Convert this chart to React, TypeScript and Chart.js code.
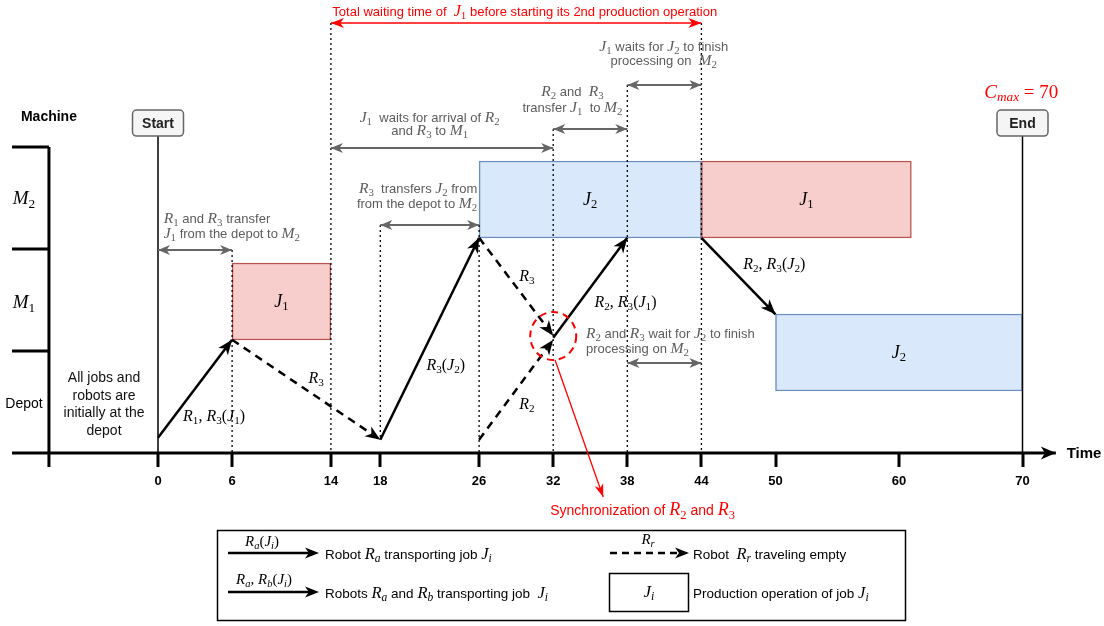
import { useEffect, useRef } from 'react';
import { Chart, registerables } from 'chart.js';

Chart.register(...registerables);

// ---- values ----
const TIME_TICKS = [0, 6, 14, 18, 26, 32, 38, 44, 50, 60, 70];
const C_MAX = 70;

// production operations (machine: 1 = M1, 2 = M2)
const OP_JOB = ['J_1', 'J_2', 'J_1', 'J_2'];
const OP_MACHINE = [1, 2, 2, 1];
const OP_START = [6, 26, 44, 50];
const OP_END = [14, 44, 61, 70];

// robot moves (levels in machine-row units, 0 = time axis)
const MOVE_LABEL = ['R_1, R_3(J_1)', 'R_3', 'R_3(J_2)', 'R_3', 'R_2', 'R_2, R_3(J_1)', 'R_2, R_3(J_2)'];
const MOVE_LOADED = [true, false, true, false, false, true, true];
const MOVE_T0 = [0, 6, 18, 26, 26, 32, 44];
const MOVE_T1 = [6, 18, 26, 32, 32, 38, 50];
const MOVE_L0 = [0.15, 1.11, 0.13, 2.11, 0.13, 1.13, 2.11];
const MOVE_L1 = [1.11, 0.13, 2.11, 1.15, 1.11, 2.11, 1.36];

// grey double arrows (transfer / waiting intervals)
const SPAN_T0 = [0, 18, 14, 32, 38, 38];
const SPAN_T1 = [6, 26, 32, 38, 44, 44];
const SPAN_L = [1.99, 2.235, 2.99, 3.176, 3.608, 0.882];

// total waiting time of J1 (red)
const WAIT_T0 = 14;
const WAIT_T1 = 44;
const WAIT_L = 4.216;

// dotted guides
const GUIDE_T = [6, 14, 18, 26, 32, 38, 44];
const GUIDE_TOP = [1.99, 4.216, 2.235, 2.235, 3.176, 3.608, 4.216];
const GUIDE_BOTTOM = [0, 0, 0.13, 0, 0, 0, 0];

// ---- layout ----
const W = 1104;
const H = 626;
const PX_PER_T = 12.35;
const T0_PX = 158;
const ROW_PX = 102;
const AXIS_PX = 453;
const X_MIN = -T0_PX / PX_PER_T;
const X_MAX = X_MIN + W / PX_PER_T;
const Y_MAX = AXIS_PX / ROW_PX;
const Y_MIN = Y_MAX - H / ROW_PX;
const BAR_LO = 0.108;
const BAR_HI = 0.863;
const OP_SHIFT = [0, 0, 0, -0.5];
const AX_LEFT = -11.82;
const AX_V = -8.83;
const AX_RIGHT = 72.7;
const MARK_TOP = 3.116;
const BOX_L = 3.235;

const RED = '#ff0000';
const GREY = '#5c5c5c';
const SANS = '"Liberation Sans", Arial, sans-serif';
const SERIF = '"Liberation Serif", "Times New Roman", serif';

const NOTES: any[] = [
  { t: 29.7, l: 4.333, lines: ['Total waiting time of  $J_1$ before starting its 2nd production operation'], color: RED, size: 13, ms: 16 },
  { t: 40.95, l: 3.922, lines: ['$J_1$ waits for $J_2$ to finish', 'processing on  $M_2$'], lh: 14 },
  { t: 33.56, l: 3.47, lines: ['$R_2$ and  $R_3$', 'transfer $J_1$  to $M_2$'], lh: 16 },
  { t: 22.0, l: 3.23, lines: ['$J_1$  waits for arrival of $R_2$', 'and $R_3$ to $M_1$'], lh: 13 },
  { t: 0.46, l: 2.225, lines: ['$R_1$ and $R_3$ transfer', '$J_1$ from the depot to $M_2$'], lh: 15, align: 'left' },
  { t: 25.85, l: 2.525, lines: ['$R_3$  transfers $J_2$ from', 'from the depot to $M_2$'], lh: 15, align: 'right' },
  { t: 34.65, l: 1.103, lines: ['$R_2$ and $R_3$ wait for $J_2$ to finish', 'processing on $M_2$'], lh: 15, align: 'left' },
  { t: 39.24, l: -0.559, lines: ['Synchronization of $R_2$ and $R_3$'], color: RED, size: 14, ms: 18 },
  { t: 69.9, l: 3.54, lines: ['$C_{max} = 70$'], color: RED, size: 16, ms: 19 },
  { t: -4.37, l: 0.485, lines: ['All jobs and', 'robots are', 'initially at the', 'depot'], color: '#111', size: 14, lh: 17.6 },
  { t: -10.85, l: 0.49, lines: ['Depot'], color: '#000', size: 14 },
  { t: -10.85, l: 1.48, lines: ['$M_1$'], color: '#000', size: 16, ms: 19 },
  { t: -10.85, l: 2.5, lines: ['$M_2$'], color: '#000', size: 16, ms: 19 },
  { t: -8.83, l: 3.304, lines: ['Machine'], color: '#000', size: 14, bold: true },
  { t: 74.98, l: 0, lines: ['Time'], color: '#000', size: 15, bold: true },
];
const MOVE_TEXT_POS = [
  [4.54, 0.363], [12.8, 0.735], [23.3, 0.863], [29.87, 1.735], [29.87, 0.48], [37.85, 1.48], [49.9, 1.853],
];
const SYNC_C = [32, 1.147];
const SYNC_FROM = [32.15, 0.912];
const SYNC_TO = [36.05, -0.431];

type Seg = { s: string; font: string; dy: number };
const mathFont = (c: string, sz: number) => `${/[A-Za-z]/.test(c) ? 'italic ' : ''}${sz.toFixed(1)}px ${SERIF}`;

function segs(text: string, size: number, bold: boolean, msize: number): Seg[] {
  const out: Seg[] = [];
  text.split('$').forEach((part, i) => {
    if (!part) return;
    if (i % 2 === 0) {
      out.push({ s: part, font: `${bold ? 'bold ' : ''}${size}px ${SANS}`, dy: 0 });
      return;
    }
    let k = 0;
    while (k < part.length) {
      const c = part[k];
      if (c === '_') {
        let sub: string;
        if (part[k + 1] === '{') {
          const e = part.indexOf('}', k);
          sub = part.slice(k + 2, e);
          k = e + 1;
        } else {
          sub = part[k + 1];
          k += 2;
        }
        for (const d of sub) out.push({ s: d, font: mathFont(d, msize * 0.7), dy: msize * 0.2 });
        continue;
      }
      out.push({ s: c, font: mathFont(c, msize), dy: 0 });
      k++;
    }
  });
  return out;
}

function drawRich(ctx: CanvasRenderingContext2D, text: string, x: number, y: number, o: any) {
  const size = o.size ?? 13;
  const list = segs(text, size, !!o.bold, o.ms ?? size * 1.2);
  let w = 0;
  const ws = list.map((g) => {
    ctx.font = g.font;
    const m = ctx.measureText(g.s).width;
    w += m;
    return m;
  });
  let cx = o.align === 'left' ? x : o.align === 'right' ? x - w : x - w / 2;
  ctx.fillStyle = o.color ?? GREY;
  ctx.textAlign = 'left';
  ctx.textBaseline = 'alphabetic';
  const base = y + size * 0.36;
  list.forEach((g, i) => {
    ctx.font = g.font;
    ctx.fillText(g.s, cx, base + g.dy);
    cx += ws[i];
  });
}

function head(ctx: CanvasRenderingContext2D, x1: number, y1: number, x2: number, y2: number, len: number, wid: number, color: string) {
  const a = Math.atan2(y2 - y1, x2 - x1);
  ctx.save();
  ctx.translate(x2, y2);
  ctx.rotate(a);
  ctx.beginPath();
  ctx.moveTo(0, 0);
  ctx.lineTo(-len, -wid / 2);
  ctx.lineTo(-len * 0.72, 0);
  ctx.lineTo(-len, wid / 2);
  ctx.closePath();
  ctx.fillStyle = color;
  ctx.fill();
  ctx.restore();
}

function seg(pts: number[][], color: string, width: number, dash: number[], order: number, heads?: any) {
  return {
    type: 'line',
    data: pts.map(([x, y]) => ({ x, y })),
    borderColor: color,
    borderWidth: width,
    borderDash: dash,
    borderCapStyle: 'butt',
    pointRadius: 0,
    pointHoverRadius: 0,
    fill: false,
    tension: 0,
    clip: false,
    order,
    heads,
  };
}

const overlayPlugin = {
  id: 'overlay',
  afterDatasetsDraw(chart: any) {
    const ctx: CanvasRenderingContext2D = chart.ctx;
    const xs = chart.scales.x;
    const ys = chart.scales.y;
    // arrowheads
    chart.data.datasets.forEach((ds: any, i: number) => {
      if (!ds.heads) return;
      const p = chart.getDatasetMeta(i).data;
      const n = p.length;
      const h = ds.heads;
      if (h.end) head(ctx, p[n - 2].x, p[n - 2].y, p[n - 1].x, p[n - 1].y, h.len, h.wid, ds.borderColor);
      if (h.start) head(ctx, p[1].x, p[1].y, p[0].x, p[0].y, h.len, h.wid, ds.borderColor);
    });
    // time ticks
    ctx.save();
    ctx.strokeStyle = '#000';
    ctx.lineWidth = 3;
    const y0 = ys.getPixelForValue(0);
    TIME_TICKS.forEach((t) => {
      const x = Math.round(xs.getPixelForValue(t));
      ctx.beginPath();
      ctx.moveTo(x, y0);
      ctx.lineTo(x, y0 + 14);
      ctx.stroke();
    });
    // synchronization circle
    ctx.setLineDash([7, 5]);
    ctx.strokeStyle = RED;
    ctx.lineWidth = 2;
    ctx.beginPath();
    ctx.ellipse(xs.getPixelForValue(SYNC_C[0]), ys.getPixelForValue(SYNC_C[1]), 23, 24, 0, 0, Math.PI * 2);
    ctx.stroke();
    ctx.setLineDash([]);
    // start / end boxes
    [['Start', 0], ['End', C_MAX]].forEach(([label, t]: any) => {
      const cx = xs.getPixelForValue(t);
      const cy = ys.getPixelForValue(BOX_L);
      ctx.beginPath();
      ctx.roundRect(cx - 25.5, cy - 13, 51, 26, 4);
      ctx.fillStyle = '#f5f5f5';
      ctx.fill();
      ctx.strokeStyle = '#666';
      ctx.lineWidth = 1.5;
      ctx.stroke();
      drawRich(ctx, label, cx, cy, { size: 14, bold: true, color: '#222' });
    });
    ctx.restore();
  },
  afterDraw(chart: any) {
    const ctx: CanvasRenderingContext2D = chart.ctx;
    const xs = chart.scales.x;
    const ys = chart.scales.y;
    ctx.save();
    const y0 = ys.getPixelForValue(0);
    TIME_TICKS.forEach((t) => drawRich(ctx, String(t), xs.getPixelForValue(t), y0 + 27, { size: 13, bold: true, color: '#000' }));
    // job labels
    OP_JOB.forEach((j, i) => {
      const cx = xs.getPixelForValue((OP_START[i] + OP_END[i]) / 2);
      const cy = ys.getPixelForValue(OP_MACHINE[i] + OP_SHIFT[i] + (BAR_LO + BAR_HI) / 2);
      drawRich(ctx, `$${j}$`, cx, cy, { size: 14, ms: 18, color: '#000' });
    });
    // move labels
    MOVE_LABEL.forEach((m, i) => {
      drawRich(ctx, `$${m}$`, xs.getPixelForValue(MOVE_TEXT_POS[i][0]), ys.getPixelForValue(MOVE_TEXT_POS[i][1]), { size: 13, ms: 16, color: '#000' });
    });
    // notes
    NOTES.forEach((n) => {
      const lh = n.lh ?? 15;
      const x = xs.getPixelForValue(n.t);
      const yc = ys.getPixelForValue(n.l);
      n.lines.forEach((line: string, k: number) => {
        drawRich(ctx, line, x, yc + (k - (n.lines.length - 1) / 2) * lh, n);
      });
    });
    // legend
    ctx.strokeStyle = '#000';
    ctx.lineWidth = 1.5;
    ctx.strokeRect(217.5, 530.5, 688, 90);
    const arrow = (x1: number, x2: number, y: number, dash: number[]) => {
      ctx.setLineDash(dash);
      ctx.lineWidth = 2.5;
      ctx.beginPath();
      ctx.moveTo(x1, y);
      ctx.lineTo(x2 - 6, y);
      ctx.stroke();
      ctx.setLineDash([]);
      head(ctx, x1, y, x2, y, 14, 11, '#000');
    };
    arrow(228, 319, 553, []);
    arrow(228, 319, 592, []);
    arrow(610, 689, 553, [7, 5]);
    drawRich(ctx, '$R_a(J_i)$', 262, 542, { size: 12, ms: 15, color: '#000' });
    drawRich(ctx, '$R_a, R_b(J_i)$', 264, 580, { size: 12, ms: 15, color: '#000' });
    drawRich(ctx, '$R_r$', 648, 540, { size: 12, ms: 15, color: '#000' });
    const lg = { size: 13.5, ms: 16.5, color: '#000', align: 'left' };
    drawRich(ctx, 'Robot $R_a$ transporting job $J_i$', 325, 554, lg);
    drawRich(ctx, 'Robots $R_a$ and $R_b$ transporting job  $J_i$', 325, 593, lg);
    drawRich(ctx, 'Robot  $R_r$ traveling empty', 693, 554, lg);
    drawRich(ctx, 'Production operation of job $J_i$', 693, 593, lg);
    ctx.lineWidth = 1.5;
    ctx.strokeRect(609.5, 573.5, 79, 38);
    drawRich(ctx, '$J_i$', 649, 592, { size: 13.5, ms: 17, color: '#000' });
    ctx.restore();
  },
};

export default function App() {
  const canvasRef = useRef<HTMLCanvasElement>(null);
  const chartRef = useRef<Chart | null>(null);

  useEffect(() => {
    document.body.style.margin = '0';
    if (!canvasRef.current) return;
    if (chartRef.current) chartRef.current.destroy();

    const bars = {
      type: 'bar',
      indexAxis: 'y',
      data: OP_JOB.map((_, i) => ({ x: [OP_START[i], OP_END[i]], y: OP_MACHINE[i] + OP_SHIFT[i] + (BAR_LO + BAR_HI) / 2 })),
      backgroundColor: OP_JOB.map((j) => (j === 'J_1' ? '#f8cecc' : '#dae8fc')),
      borderColor: OP_JOB.map((j) => (j === 'J_1' ? '#b85450' : '#6c8ebf')),
      borderWidth: 1.5,
      borderSkipped: false,
      barThickness: (BAR_HI - BAR_LO) * ROW_PX,
      order: 10,
    };

    const datasets: any[] = [bars];
    GUIDE_T.forEach((t, i) => datasets.push(seg([[t, GUIDE_TOP[i]], [t, GUIDE_BOTTOM[i]]], '#000', 1.3, [2, 3], 8)));
    [0, C_MAX].forEach((t) => datasets.push(seg([[t, MARK_TOP], [t, 0]], '#000', 1.5, [], 7)));
    datasets.push(seg([[AX_LEFT, 0], [AX_RIGHT, 0]], '#000', 3, [], 6, { end: true, len: 15, wid: 13 }));
    datasets.push(seg([[AX_V, 3], [AX_V, -0.137]], '#000', 3, [], 6));
    [1, 2, 3].forEach((l) => datasets.push(seg([[AX_LEFT, l], [AX_V, l]], '#000', 3, [], 6)));
    SPAN_T0.forEach((t, i) => datasets.push(seg([[t, SPAN_L[i]], [SPAN_T1[i], SPAN_L[i]]], '#666', 2, [], 5, { start: true, end: true, len: 12, wid: 10 })));
    datasets.push(seg([[WAIT_T0, WAIT_L], [WAIT_T1, WAIT_L]], RED, 1.5, [], 5, { start: true, end: true, len: 13, wid: 10 }));
    MOVE_T0.forEach((t, i) =>
      datasets.push(
        seg([[t, MOVE_L0[i]], [MOVE_T1[i], MOVE_L1[i]]], '#000', 2.5, MOVE_LOADED[i] ? [] : [8, 6], 2, { end: true, len: 15, wid: 12 })
      )
    );
    datasets.push(seg([SYNC_FROM, SYNC_TO], RED, 1.3, [], 1, { end: true, len: 13, wid: 9 }));

    chartRef.current = new Chart(canvasRef.current, {
      type: 'line',
      data: { datasets },
      options: {
        responsive: false,
        animation: false,
        events: [],
        layout: { padding: 0 },
        plugins: { legend: { display: false }, tooltip: { enabled: false } },
        scales: {
          x: { type: 'linear', min: X_MIN, max: X_MAX, display: false, offset: false, grid: { offset: false } },
          y: { type: 'linear', min: Y_MIN, max: Y_MAX, display: false, offset: false, grid: { offset: false } },
        },
      },
      plugins: [overlayPlugin],
    } as any);

    return () => chartRef.current?.destroy();
  }, []);

  return (
    <div style={{ width: W, height: H, background: '#fff' }}>
      <canvas ref={canvasRef} width={W} height={H} style={{ display: 'block' }} />
    </div>
  );
}
